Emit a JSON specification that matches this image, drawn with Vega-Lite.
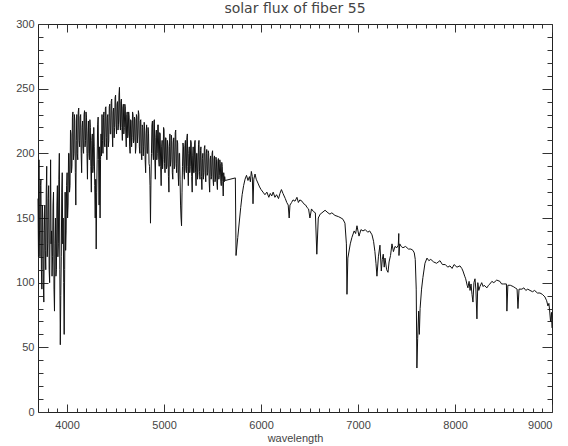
{
  "$schema": "https://vega.github.io/schema/vega-lite/v6.json",
  "width": 514,
  "height": 388,
  "autosize": "none",
  "padding": {"left": 38, "top": 24, "right": 16, "bottom": 34},
  "title": {"text": "solar flux of fiber 55", "font": "DejaVu Sans", "fontSize": 14, "fontWeight": "normal", "color": "#444", "offset": 2},
  "config": {
    "view": {"stroke": "#222", "strokeWidth": 1},
    "axis": {"grid": false, "domain": false, "labelFont": "Liberation Sans", "labelFontSize": 11, "labelColor": "#444", "titleFont": "Liberation Sans", "titleFontSize": 11, "titleFontWeight": "normal", "titleColor": "#444", "tickColor": "#333", "tickWidth": 1}
  },
  "layer": [
    {
      "data": {"values": [
        {"wavelength":3700,"flux":165},{"wavelength":3705,"flux":120},{"wavelength":3710,"flux":195},{"wavelength":3715,"flux":140},{"wavelength":3720,"flux":120},{"wavelength":3725,"flux":175},{"wavelength":3730,"flux":180},{"wavelength":3735,"flux":110},{"wavelength":3740,"flux":95},{"wavelength":3745,"flux":160},
        {"wavelength":3750,"flux":150},{"wavelength":3755,"flux":100},{"wavelength":3760,"flux":85},{"wavelength":3765,"flux":140},{"wavelength":3770,"flux":160},{"wavelength":3775,"flux":125},{"wavelength":3780,"flux":110},{"wavelength":3785,"flux":170},{"wavelength":3790,"flux":190},{"wavelength":3795,"flux":120},
        {"wavelength":3800,"flux":130},{"wavelength":3805,"flux":165},{"wavelength":3810,"flux":175},{"wavelength":3815,"flux":110},{"wavelength":3820,"flux":100},{"wavelength":3825,"flux":150},{"wavelength":3830,"flux":195},{"wavelength":3835,"flux":130},{"wavelength":3840,"flux":140},{"wavelength":3845,"flux":105},
        {"wavelength":3850,"flux":120},{"wavelength":3855,"flux":160},{"wavelength":3860,"flux":170},{"wavelength":3865,"flux":95},{"wavelength":3870,"flux":78},{"wavelength":3875,"flux":130},{"wavelength":3880,"flux":150},{"wavelength":3885,"flux":105},{"wavelength":3890,"flux":110},{"wavelength":3895,"flux":160},
        {"wavelength":3900,"flux":175},{"wavelength":3905,"flux":120},{"wavelength":3910,"flux":130},{"wavelength":3915,"flux":180},{"wavelength":3920,"flux":200},{"wavelength":3925,"flux":110},{"wavelength":3930,"flux":52},{"wavelength":3935,"flux":90},{"wavelength":3940,"flux":120},{"wavelength":3945,"flux":170},
        {"wavelength":3950,"flux":185},{"wavelength":3955,"flux":130},{"wavelength":3960,"flux":150},{"wavelength":3965,"flux":100},{"wavelength":3970,"flux":60},{"wavelength":3975,"flux":110},{"wavelength":3980,"flux":170},{"wavelength":3985,"flux":125},{"wavelength":3990,"flux":140},{"wavelength":3995,"flux":175},
        {"wavelength":4000,"flux":185},{"wavelength":4005,"flux":150},{"wavelength":4010,"flux":160},{"wavelength":4015,"flux":200},{"wavelength":4020,"flux":200},{"wavelength":4025,"flux":170},{"wavelength":4030,"flux":175},{"wavelength":4035,"flux":218},{"wavelength":4040,"flux":215},{"wavelength":4045,"flux":185},
        {"wavelength":4050,"flux":190},{"wavelength":4055,"flux":228},{"wavelength":4060,"flux":232},{"wavelength":4065,"flux":195},{"wavelength":4070,"flux":200},{"wavelength":4075,"flux":230},{"wavelength":4080,"flux":225},{"wavelength":4085,"flux":185},{"wavelength":4090,"flux":160},{"wavelength":4095,"flux":210},
        {"wavelength":4100,"flux":230},{"wavelength":4105,"flux":200},{"wavelength":4110,"flux":195},{"wavelength":4115,"flux":232},{"wavelength":4120,"flux":235},{"wavelength":4125,"flux":210},{"wavelength":4130,"flux":205},{"wavelength":4135,"flux":228},{"wavelength":4140,"flux":230},{"wavelength":4145,"flux":200},
        {"wavelength":4150,"flux":185},{"wavelength":4155,"flux":220},{"wavelength":4160,"flux":225},{"wavelength":4165,"flux":205},{"wavelength":4170,"flux":200},{"wavelength":4175,"flux":230},{"wavelength":4180,"flux":233},{"wavelength":4185,"flux":205},{"wavelength":4190,"flux":210},{"wavelength":4195,"flux":232},
        {"wavelength":4200,"flux":228},{"wavelength":4205,"flux":200},{"wavelength":4210,"flux":180},{"wavelength":4215,"flux":215},{"wavelength":4220,"flux":225},{"wavelength":4225,"flux":200},{"wavelength":4230,"flux":195},{"wavelength":4235,"flux":226},{"wavelength":4240,"flux":220},{"wavelength":4245,"flux":190},
        {"wavelength":4250,"flux":170},{"wavelength":4255,"flux":210},{"wavelength":4260,"flux":215},{"wavelength":4265,"flux":185},{"wavelength":4270,"flux":190},{"wavelength":4275,"flux":220},{"wavelength":4280,"flux":205},{"wavelength":4285,"flux":175},{"wavelength":4290,"flux":150},{"wavelength":4295,"flux":180},
        {"wavelength":4300,"flux":126},{"wavelength":4305,"flux":170},{"wavelength":4310,"flux":195},{"wavelength":4315,"flux":222},{"wavelength":4320,"flux":228},{"wavelength":4325,"flux":195},{"wavelength":4330,"flux":160},{"wavelength":4335,"flux":205},{"wavelength":4340,"flux":150},{"wavelength":4345,"flux":195},
        {"wavelength":4350,"flux":215},{"wavelength":4355,"flux":198},{"wavelength":4360,"flux":230},{"wavelength":4365,"flux":210},{"wavelength":4370,"flux":200},{"wavelength":4375,"flux":228},{"wavelength":4380,"flux":232},{"wavelength":4385,"flux":208},{"wavelength":4390,"flux":205},{"wavelength":4395,"flux":235},
        {"wavelength":4400,"flux":236},{"wavelength":4405,"flux":212},{"wavelength":4410,"flux":195},{"wavelength":4415,"flux":228},{"wavelength":4420,"flux":230},{"wavelength":4425,"flux":205},{"wavelength":4430,"flux":210},{"wavelength":4435,"flux":236},{"wavelength":4440,"flux":238},{"wavelength":4445,"flux":215},
        {"wavelength":4450,"flux":215},{"wavelength":4455,"flux":240},{"wavelength":4460,"flux":242},{"wavelength":4465,"flux":218},{"wavelength":4470,"flux":205},{"wavelength":4475,"flux":232},{"wavelength":4480,"flux":235},{"wavelength":4485,"flux":212},{"wavelength":4490,"flux":220},{"wavelength":4495,"flux":243},
        {"wavelength":4500,"flux":245},{"wavelength":4505,"flux":222},{"wavelength":4510,"flux":215},{"wavelength":4515,"flux":238},{"wavelength":4520,"flux":240},{"wavelength":4525,"flux":218},{"wavelength":4530,"flux":222},{"wavelength":4535,"flux":245},{"wavelength":4540,"flux":251},{"wavelength":4545,"flux":225},
        {"wavelength":4550,"flux":218},{"wavelength":4555,"flux":240},{"wavelength":4560,"flux":242},{"wavelength":4565,"flux":220},{"wavelength":4570,"flux":210},{"wavelength":4575,"flux":235},{"wavelength":4580,"flux":238},{"wavelength":4585,"flux":215},{"wavelength":4590,"flux":220},{"wavelength":4595,"flux":238},
        {"wavelength":4600,"flux":236},{"wavelength":4605,"flux":215},{"wavelength":4610,"flux":205},{"wavelength":4615,"flux":230},{"wavelength":4620,"flux":232},{"wavelength":4625,"flux":212},{"wavelength":4630,"flux":215},{"wavelength":4635,"flux":232},{"wavelength":4640,"flux":228},{"wavelength":4645,"flux":205},
        {"wavelength":4650,"flux":200},{"wavelength":4655,"flux":226},{"wavelength":4660,"flux":225},{"wavelength":4665,"flux":205},{"wavelength":4670,"flux":212},{"wavelength":4675,"flux":232},{"wavelength":4680,"flux":230},{"wavelength":4685,"flux":208},{"wavelength":4690,"flux":210},{"wavelength":4695,"flux":228},
        {"wavelength":4700,"flux":226},{"wavelength":4705,"flux":200},{"wavelength":4710,"flux":205},{"wavelength":4715,"flux":230},{"wavelength":4720,"flux":228},{"wavelength":4725,"flux":208},{"wavelength":4730,"flux":215},{"wavelength":4735,"flux":233},{"wavelength":4740,"flux":230},{"wavelength":4745,"flux":205},
        {"wavelength":4750,"flux":200},{"wavelength":4755,"flux":225},{"wavelength":4760,"flux":226},{"wavelength":4765,"flux":200},{"wavelength":4770,"flux":195},{"wavelength":4775,"flux":222},{"wavelength":4780,"flux":220},{"wavelength":4785,"flux":198},{"wavelength":4790,"flux":205},{"wavelength":4795,"flux":224},
        {"wavelength":4800,"flux":218},{"wavelength":4805,"flux":195},{"wavelength":4810,"flux":185},{"wavelength":4815,"flux":215},{"wavelength":4820,"flux":222},{"wavelength":4825,"flux":200},{"wavelength":4830,"flux":200},{"wavelength":4835,"flux":220},{"wavelength":4840,"flux":215},{"wavelength":4845,"flux":192},
        {"wavelength":4850,"flux":190},{"wavelength":4855,"flux":175},{"wavelength":4860,"flux":146},{"wavelength":4865,"flux":180},{"wavelength":4870,"flux":200},{"wavelength":4875,"flux":222},{"wavelength":4880,"flux":225},{"wavelength":4885,"flux":200},{"wavelength":4890,"flux":195},{"wavelength":4895,"flux":225},
        {"wavelength":4900,"flux":226},{"wavelength":4905,"flux":195},{"wavelength":4910,"flux":180},{"wavelength":4915,"flux":212},{"wavelength":4920,"flux":218},{"wavelength":4925,"flux":195},{"wavelength":4930,"flux":200},{"wavelength":4935,"flux":222},{"wavelength":4940,"flux":222},{"wavelength":4945,"flux":195},
        {"wavelength":4950,"flux":190},{"wavelength":4955,"flux":216},{"wavelength":4960,"flux":215},{"wavelength":4965,"flux":190},{"wavelength":4970,"flux":175},{"wavelength":4975,"flux":205},{"wavelength":4980,"flux":210},{"wavelength":4985,"flux":188},{"wavelength":4990,"flux":195},{"wavelength":4995,"flux":220},
        {"wavelength":5000,"flux":218},{"wavelength":5005,"flux":192},{"wavelength":5010,"flux":185},{"wavelength":5015,"flux":212},{"wavelength":5020,"flux":212},{"wavelength":5025,"flux":188},{"wavelength":5030,"flux":190},{"wavelength":5035,"flux":210},{"wavelength":5040,"flux":205},{"wavelength":5045,"flux":182},
        {"wavelength":5050,"flux":170},{"wavelength":5055,"flux":205},{"wavelength":5060,"flux":215},{"wavelength":5065,"flux":190},{"wavelength":5070,"flux":195},{"wavelength":5075,"flux":214},{"wavelength":5080,"flux":210},{"wavelength":5085,"flux":185},{"wavelength":5090,"flux":180},{"wavelength":5095,"flux":208},
        {"wavelength":5100,"flux":212},{"wavelength":5105,"flux":188},{"wavelength":5110,"flux":190},{"wavelength":5115,"flux":216},{"wavelength":5120,"flux":218},{"wavelength":5125,"flux":192},{"wavelength":5130,"flux":185},{"wavelength":5135,"flux":210},{"wavelength":5140,"flux":208},{"wavelength":5145,"flux":185},
        {"wavelength":5150,"flux":175},{"wavelength":5155,"flux":200},{"wavelength":5160,"flux":200},{"wavelength":5165,"flux":180},{"wavelength":5170,"flux":160},{"wavelength":5175,"flux":150},{"wavelength":5180,"flux":144},{"wavelength":5185,"flux":170},{"wavelength":5190,"flux":190},{"wavelength":5195,"flux":208},
        {"wavelength":5200,"flux":205},{"wavelength":5205,"flux":185},{"wavelength":5210,"flux":180},{"wavelength":5215,"flux":206},{"wavelength":5220,"flux":210},{"wavelength":5225,"flux":188},{"wavelength":5230,"flux":185},{"wavelength":5235,"flux":212},{"wavelength":5240,"flux":215},{"wavelength":5245,"flux":190},
        {"wavelength":5250,"flux":175},{"wavelength":5255,"flux":200},{"wavelength":5260,"flux":205},{"wavelength":5265,"flux":185},{"wavelength":5270,"flux":190},{"wavelength":5275,"flux":210},{"wavelength":5280,"flux":208},{"wavelength":5285,"flux":182},{"wavelength":5290,"flux":170},{"wavelength":5295,"flux":198},
        {"wavelength":5300,"flux":205},{"wavelength":5305,"flux":185},{"wavelength":5310,"flux":185},{"wavelength":5315,"flux":208},{"wavelength":5320,"flux":210},{"wavelength":5325,"flux":185},{"wavelength":5330,"flux":175},{"wavelength":5335,"flux":200},{"wavelength":5340,"flux":200},{"wavelength":5345,"flux":180},
        {"wavelength":5350,"flux":185},{"wavelength":5355,"flux":207},{"wavelength":5360,"flux":210},{"wavelength":5365,"flux":186},{"wavelength":5370,"flux":180},{"wavelength":5375,"flux":202},{"wavelength":5380,"flux":205},{"wavelength":5385,"flux":182},{"wavelength":5390,"flux":172},{"wavelength":5395,"flux":196},
        {"wavelength":5400,"flux":200},{"wavelength":5405,"flux":180},{"wavelength":5410,"flux":185},{"wavelength":5415,"flux":204},{"wavelength":5420,"flux":206},{"wavelength":5425,"flux":184},{"wavelength":5430,"flux":178},{"wavelength":5435,"flux":200},{"wavelength":5440,"flux":203},{"wavelength":5445,"flux":183},
        {"wavelength":5450,"flux":185},{"wavelength":5455,"flux":202},{"wavelength":5460,"flux":200},{"wavelength":5465,"flux":178},{"wavelength":5470,"flux":170},{"wavelength":5475,"flux":195},{"wavelength":5480,"flux":198},{"wavelength":5485,"flux":180},{"wavelength":5490,"flux":182},{"wavelength":5495,"flux":200},
        {"wavelength":5500,"flux":202},{"wavelength":5505,"flux":180},{"wavelength":5510,"flux":175},{"wavelength":5515,"flux":196},{"wavelength":5520,"flux":198},{"wavelength":5525,"flux":178},{"wavelength":5530,"flux":180},{"wavelength":5535,"flux":197},{"wavelength":5540,"flux":195},{"wavelength":5545,"flux":177},
        {"wavelength":5550,"flux":172},{"wavelength":5555,"flux":194},{"wavelength":5560,"flux":196},{"wavelength":5565,"flux":180},{"wavelength":5570,"flux":183},{"wavelength":5575,"flux":195},{"wavelength":5580,"flux":192},{"wavelength":5585,"flux":178},{"wavelength":5590,"flux":175},{"wavelength":5595,"flux":193},
        {"wavelength":5600,"flux":190},{"wavelength":5605,"flux":178},{"wavelength":5610,"flux":167},{"wavelength":5615,"flux":185},{"wavelength":5620,"flux":178},{"wavelength":5625,"flux":182},{"wavelength":5630,"flux":179},
        {"wavelength":5735,"flux":181},{"wavelength":5742,"flux":121},{"wavelength":5760,"flux":135},{"wavelength":5790,"flux":158},{"wavelength":5805,"flux":168},{"wavelength":5820,"flux":175},{"wavelength":5835,"flux":180},{"wavelength":5850,"flux":183},{"wavelength":5865,"flux":179},{"wavelength":5880,"flux":182},
        {"wavelength":5890,"flux":178},{"wavelength":5900,"flux":186},{"wavelength":5910,"flux":182},{"wavelength":5917,"flux":161},{"wavelength":5925,"flux":180},{"wavelength":5938,"flux":184},{"wavelength":5950,"flux":180},{"wavelength":5968,"flux":177},{"wavelength":5985,"flux":174},{"wavelength":6000,"flux":172},
        {"wavelength":6020,"flux":170},{"wavelength":6040,"flux":168},{"wavelength":6060,"flux":170},{"wavelength":6080,"flux":166},{"wavelength":6095,"flux":169},{"wavelength":6110,"flux":167},{"wavelength":6125,"flux":170},{"wavelength":6143,"flux":166},{"wavelength":6160,"flux":168},{"wavelength":6180,"flux":165},
        {"wavelength":6195,"flux":169},{"wavelength":6210,"flux":172},{"wavelength":6226,"flux":169},{"wavelength":6250,"flux":165},{"wavelength":6265,"flux":162},{"wavelength":6280,"flux":160},{"wavelength":6290,"flux":150},{"wavelength":6298,"flux":160},{"wavelength":6315,"flux":162},{"wavelength":6330,"flux":164},
        {"wavelength":6350,"flux":163},{"wavelength":6370,"flux":166},{"wavelength":6385,"flux":162},{"wavelength":6400,"flux":164},{"wavelength":6422,"flux":163},{"wavelength":6440,"flux":161},{"wavelength":6460,"flux":160},{"wavelength":6475,"flux":158},{"wavelength":6490,"flux":157},{"wavelength":6504,"flux":150},
        {"wavelength":6520,"flux":157},{"wavelength":6540,"flux":155},{"wavelength":6560,"flux":154},{"wavelength":6575,"flux":122},{"wavelength":6590,"flux":150},{"wavelength":6610,"flux":153},{"wavelength":6628,"flux":154},{"wavelength":6660,"flux":156},{"wavelength":6690,"flux":154},{"wavelength":6710,"flux":153},
        {"wavelength":6730,"flux":154},{"wavelength":6762,"flux":152},{"wavelength":6800,"flux":151},{"wavelength":6825,"flux":150},{"wavelength":6845,"flux":149},{"wavelength":6865,"flux":146},{"wavelength":6880,"flux":130},{"wavelength":6886,"flux":91},{"wavelength":6895,"flux":119},{"wavelength":6920,"flux":130},
        {"wavelength":6937,"flux":135},{"wavelength":6960,"flux":140},{"wavelength":6975,"flux":138},{"wavelength":6989,"flux":144},{"wavelength":7010,"flux":136},{"wavelength":7030,"flux":141},{"wavelength":7051,"flux":140},{"wavelength":7075,"flux":141},{"wavelength":7100,"flux":139},{"wavelength":7120,"flux":140},
        {"wavelength":7144,"flux":137},{"wavelength":7160,"flux":132},{"wavelength":7174,"flux":124},{"wavelength":7185,"flux":115},{"wavelength":7195,"flux":105},{"wavelength":7210,"flux":120},{"wavelength":7226,"flux":129},{"wavelength":7240,"flux":109},{"wavelength":7250,"flux":118},{"wavelength":7260,"flux":122},
        {"wavelength":7270,"flux":112},{"wavelength":7278,"flux":119},{"wavelength":7295,"flux":110},{"wavelength":7309,"flux":108},{"wavelength":7320,"flux":116},{"wavelength":7335,"flux":121},{"wavelength":7350,"flux":130},{"wavelength":7365,"flux":124},{"wavelength":7381,"flux":128},{"wavelength":7400,"flux":127},
        {"wavelength":7415,"flux":129},{"wavelength":7420,"flux":138},{"wavelength":7422,"flux":121},{"wavelength":7430,"flux":130},{"wavelength":7445,"flux":128},{"wavelength":7463,"flux":127},{"wavelength":7490,"flux":128},{"wavelength":7520,"flux":126},{"wavelength":7545,"flux":126},{"wavelength":7566,"flux":125},
        {"wavelength":7580,"flux":123},{"wavelength":7590,"flux":118},{"wavelength":7600,"flux":95},{"wavelength":7607,"flux":34},{"wavelength":7615,"flux":57},{"wavelength":7625,"flux":78},{"wavelength":7632,"flux":60},{"wavelength":7640,"flux":80},{"wavelength":7655,"flux":95},{"wavelength":7669,"flux":104},
        {"wavelength":7690,"flux":115},{"wavelength":7711,"flux":119},{"wavelength":7730,"flux":117},{"wavelength":7750,"flux":118},{"wavelength":7780,"flux":116},{"wavelength":7810,"flux":115},{"wavelength":7845,"flux":117},{"wavelength":7870,"flux":114},{"wavelength":7900,"flux":114},{"wavelength":7925,"flux":112},
        {"wavelength":7948,"flux":113},{"wavelength":7970,"flux":111},{"wavelength":7990,"flux":114},{"wavelength":8020,"flux":112},{"wavelength":8051,"flux":113},{"wavelength":8070,"flux":111},{"wavelength":8082,"flux":109},{"wavelength":8100,"flux":105},{"wavelength":8110,"flux":103},{"wavelength":8125,"flux":98},
        {"wavelength":8133,"flux":96},{"wavelength":8145,"flux":101},{"wavelength":8155,"flux":94},{"wavelength":8165,"flux":99},{"wavelength":8175,"flux":91},{"wavelength":8185,"flux":85},{"wavelength":8195,"flux":100},{"wavelength":8206,"flux":103},{"wavelength":8215,"flux":95},{"wavelength":8226,"flux":72},
        {"wavelength":8235,"flux":100},{"wavelength":8245,"flux":94},{"wavelength":8257,"flux":97},{"wavelength":8275,"flux":100},{"wavelength":8290,"flux":97},{"wavelength":8300,"flux":98},{"wavelength":8329,"flux":96},{"wavelength":8345,"flux":98},{"wavelength":8360,"flux":99},{"wavelength":8380,"flux":101},
        {"wavelength":8400,"flux":100},{"wavelength":8430,"flux":102},{"wavelength":8463,"flux":101},{"wavelength":8480,"flux":99},{"wavelength":8500,"flux":99},{"wavelength":8530,"flux":99},{"wavelength":8535,"flux":78},{"wavelength":8545,"flux":98},{"wavelength":8570,"flux":98},{"wavelength":8600,"flux":97},
        {"wavelength":8620,"flux":96},{"wavelength":8640,"flux":95},{"wavelength":8649,"flux":80},{"wavelength":8660,"flux":95},{"wavelength":8690,"flux":95},{"wavelength":8710,"flux":96},{"wavelength":8730,"flux":94},{"wavelength":8750,"flux":95},{"wavelength":8773,"flux":94},{"wavelength":8800,"flux":93},
        {"wavelength":8820,"flux":94},{"wavelength":8850,"flux":92},{"wavelength":8876,"flux":92},{"wavelength":8900,"flux":91},{"wavelength":8927,"flux":89},{"wavelength":8945,"flux":86},{"wavelength":8958,"flux":82},{"wavelength":8968,"flux":84},{"wavelength":8975,"flux":79},{"wavelength":8985,"flux":70},
        {"wavelength":8995,"flux":77},{"wavelength":9000,"flux":65}
      ]},
      "mark": {"type": "line", "color": "#111", "strokeWidth": 1},
      "encoding": {
        "x": {"field": "wavelength", "type": "quantitative", "scale": {"domain": [3700, 9000], "nice": false, "zero": false},
          "axis": {"orient": "bottom", "ticks": false, "values": [4000, 5000, 6000, 7000, 8000, 9000], "format": "d", "labelPadding": 7, "title": "wavelength", "titlePadding": 2}},
        "y": {"field": "flux", "type": "quantitative", "scale": {"domain": [0, 300], "nice": false, "zero": false},
          "axis": {"orient": "left", "ticks": false, "values": [0, 50, 100, 150, 200, 250, 300], "labelPadding": 4, "title": null}}
      }
    },
    {
      "data": {"values": [{"wl": 3700, "fl": 0}]},
      "mark": {"type": "point", "opacity": 0},
      "encoding": {
        "x": {"field": "wl", "type": "quantitative", "scale": {"domain": [3700, 9000], "nice": false, "zero": false},
          "axis": {"orient": "bottom", "labels": false, "tickSize": -8, "values": [4000, 5000, 6000, 7000, 8000, 9000], "title": null}},
        "y": {"field": "fl", "type": "quantitative", "scale": {"domain": [0, 300], "nice": false, "zero": false},
          "axis": {"orient": "left", "labels": false, "tickSize": -10, "values": [0, 50, 100, 150, 200, 250, 300], "title": null}}
      }
    },
    {
      "data": {"values": [{"wl": 3700, "fl": 0}]},
      "mark": {"type": "point", "opacity": 0},
      "encoding": {
        "x": {"field": "wl", "type": "quantitative", "scale": {"domain": [3700, 9000], "nice": false, "zero": false},
          "axis": {"orient": "bottom", "labels": false, "tickSize": -4, "values": [3800,3900,4000,4100,4200,4300,4400,4500,4600,4700,4800,4900,5000,5100,5200,5300,5400,5500,5600,5700,5800,5900,6000,6100,6200,6300,6400,6500,6600,6700,6800,6900,7000,7100,7200,7300,7400,7500,7600,7700,7800,7900,8000,8100,8200,8300,8400,8500,8600,8700,8800,8900], "title": null}},
        "y": {"field": "fl", "type": "quantitative", "scale": {"domain": [0, 300], "nice": false, "zero": false},
          "axis": {"orient": "left", "labels": false, "tickSize": -5, "values": [10,20,30,40,60,70,80,90,110,120,130,140,160,170,180,190,210,220,230,240,260,270,280,290], "title": null}}
      }
    },
    {
      "data": {"values": [{"wl": 3700, "fl": 0}]},
      "mark": {"type": "point", "opacity": 0},
      "encoding": {
        "x": {"field": "wl", "type": "quantitative", "scale": {"domain": [3700, 9000], "nice": false, "zero": false},
          "axis": {"orient": "top", "labels": false, "tickSize": -8, "values": [4000, 5000, 6000, 7000, 8000, 9000], "title": null}},
        "y": {"field": "fl", "type": "quantitative", "scale": {"domain": [0, 300], "nice": false, "zero": false},
          "axis": {"orient": "right", "labels": false, "tickSize": -10, "values": [0, 50, 100, 150, 200, 250, 300], "title": null}}
      }
    },
    {
      "data": {"values": [{"wl": 3700, "fl": 0}]},
      "mark": {"type": "point", "opacity": 0},
      "encoding": {
        "x": {"field": "wl", "type": "quantitative", "scale": {"domain": [3700, 9000], "nice": false, "zero": false},
          "axis": {"orient": "top", "labels": false, "tickSize": -4, "values": [3800,3900,4000,4100,4200,4300,4400,4500,4600,4700,4800,4900,5000,5100,5200,5300,5400,5500,5600,5700,5800,5900,6000,6100,6200,6300,6400,6500,6600,6700,6800,6900,7000,7100,7200,7300,7400,7500,7600,7700,7800,7900,8000,8100,8200,8300,8400,8500,8600,8700,8800,8900], "title": null}},
        "y": {"field": "fl", "type": "quantitative", "scale": {"domain": [0, 300], "nice": false, "zero": false},
          "axis": {"orient": "right", "labels": false, "tickSize": -5, "values": [10,20,30,40,60,70,80,90,110,120,130,140,160,170,180,190,210,220,230,240,260,270,280,290], "title": null}}
      }
    }
  ],
  "resolve": {"axis": {"x": "independent", "y": "independent"}}
}
